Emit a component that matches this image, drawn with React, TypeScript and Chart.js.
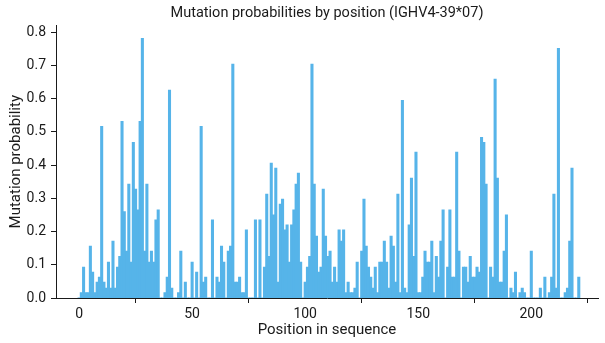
import React, { useEffect, useRef } from "react";
import { Chart, registerables } from "chart.js";

Chart.register(...registerables);

const TITLE = "Mutation probabilities by position (IGHV4-39*07)";
const X_LABEL = "Position in sequence";
const Y_LABEL = "Mutation probability";
const X_TICKS = [0, 50, 100, 150, 200];
const Y_TICKS = [0, 0.1, 0.2, 0.3, 0.4, 0.5, 0.6, 0.7, 0.8];

// mutation probability at each position 0..221
const probabilities = [
  0, 0.016, 0.093, 0.016, 0.016, 0.156, 0.078, 0.016, 0.048, 0.063,
  0.517, 0.048, 0.03, 0.108, 0.03, 0.171, 0.03, 0.093, 0.125, 0.532,
  0.26, 0.141, 0.343, 0.108, 0.469, 0.328, 0.265, 0.532, 0.782, 0.141,
  0.343, 0.108, 0.141, 0.108, 0.235, 0.265, 0, 0, 0.016, 0.063,
  0.626, 0.03, 0, 0, 0.016, 0.141, 0, 0.048, 0, 0,
  0.108, 0, 0.078, 0, 0.517, 0.048, 0.063, 0, 0, 0.235,
  0, 0.063, 0.048, 0.156, 0.108, 0, 0.141, 0.156, 0.704, 0.048,
  0.048, 0.063, 0.016, 0.016, 0.205, 0, 0, 0, 0.235, 0,
  0.235, 0, 0.093, 0.313, 0.125, 0.406, 0.25, 0.391, 0.048, 0.283,
  0.298, 0.205, 0.22, 0.108, 0.22, 0.265, 0.343, 0.376, 0.108, 0,
  0.048, 0.093, 0.125, 0.704, 0.343, 0.186, 0.078, 0.093, 0.328, 0.186,
  0.125, 0.141, 0.048, 0.093, 0.048, 0.205, 0.171, 0.205, 0.016, 0.048,
  0.016, 0.016, 0.03, 0.108, 0, 0.141, 0.298, 0.156, 0.093, 0.063,
  0.03, 0.093, 0.016, 0.108, 0.108, 0.171, 0.108, 0.03, 0.186, 0.156,
  0.048, 0.313, 0.016, 0.595, 0.03, 0.016, 0.22, 0.361, 0.125, 0.439,
  0.016, 0.016, 0.063, 0.141, 0.108, 0.108, 0.171, 0.016, 0.125, 0.063,
  0.171, 0.265, 0, 0.093, 0.265, 0.063, 0.063, 0.439, 0.141, 0,
  0.093, 0.093, 0.048, 0.125, 0.063, 0.063, 0.093, 0.078, 0.484, 0.469,
  0.343, 0, 0.093, 0.063, 0.659, 0.361, 0.048, 0.048, 0.141, 0.25,
  0, 0.03, 0.016, 0.078, 0, 0.016, 0.03, 0.016, 0, 0,
  0.141, 0, 0, 0, 0.03, 0, 0.063, 0, 0.016, 0.063,
  0.313, 0.03, 0.752, 0, 0, 0.016, 0.03, 0.171, 0.391, 0,
  0, 0.063,
];

const BAR_COLOR = "#56B4E9";
const TEXT_COLOR = "#1a1a1a";
const FONT = "Roboto";

export default function App() {
  const canvasRef = useRef<HTMLCanvasElement | null>(null);

  useEffect(() => {
    const canvas = canvasRef.current;
    if (!canvas) return;
    const data = probabilities.map((v, i) => ({ x: i, y: v }));
    const chart = new Chart(canvas, {
      type: "bar",
      data: {
        datasets: [
          {
            data,
            backgroundColor: BAR_COLOR,
            borderWidth: 0,
            barPercentage: 1,
            categoryPercentage: 1,
            inflateAmount: 0.4,
          } as any,
        ],
      },
      options: {
        responsive: false,
        maintainAspectRatio: false,
        animation: false,
        events: [],
        layout: { padding: { left: 0, right: 7, top: 0, bottom: 0 } },
        plugins: {
          legend: { display: false },
          tooltip: { enabled: false },
          title: {
            display: true,
            fullSize: false,
            text: TITLE,
            color: TEXT_COLOR,
            font: { family: FONT, size: 14.5, weight: "normal" },
            padding: { top: 5, bottom: 3 },
          },
        },
        scales: {
          x: {
            type: "linear",
            min: -10.2,
            max: 229.5,
            offset: false,
            grid: {
              drawOnChartArea: false,
              drawTicks: true,
              tickLength: 5,
              tickColor: TEXT_COLOR,
            },
            border: { display: true, color: TEXT_COLOR, width: 1 },
            ticks: {
              color: TEXT_COLOR,
              font: { family: FONT, size: 14 },
              padding: 3,
              maxRotation: 0,
              callback: (v: any) => String(v),
            },
            afterBuildTicks: (scale: any) => {
              scale.ticks = X_TICKS.map((v) => ({ value: v }));
            },
            afterFit: (scale: any) => {
              scale.height = 45;
            },
            title: {
              display: true,
              text: X_LABEL,
              color: TEXT_COLOR,
              font: { family: FONT, size: 15 },
              padding: { top: 0, bottom: 4 },
            },
          },
          y: {
            type: "linear",
            min: 0,
            max: 0.821,
            grid: {
              drawOnChartArea: false,
              drawTicks: true,
              tickLength: 5,
              tickColor: TEXT_COLOR,
            },
            border: { display: true, color: TEXT_COLOR, width: 1 },
            ticks: {
              color: TEXT_COLOR,
              font: { family: FONT, size: 14 },
              padding: 5,
              callback: (v: any) => Number(v).toFixed(1),
            },
            afterBuildTicks: (scale: any) => {
              scale.ticks = Y_TICKS.map((v) => ({ value: v }));
            },
            afterFit: (scale: any) => {
              scale.width = 56;
            },
            title: {
              display: true,
              text: Y_LABEL,
              color: TEXT_COLOR,
              font: { family: FONT, size: 15 },
              padding: { top: 7, bottom: 0 },
            },
          },
        },
      },
    });
    return () => chart.destroy();
  }, []);

  return (
    <div style={{ position: "fixed", left: 0, top: 0, width: 605, height: 343, background: "#fff" }}>
      <canvas ref={canvasRef} width={605} height={343} style={{ width: 605, height: 343 }} />
    </div>
  );
}
